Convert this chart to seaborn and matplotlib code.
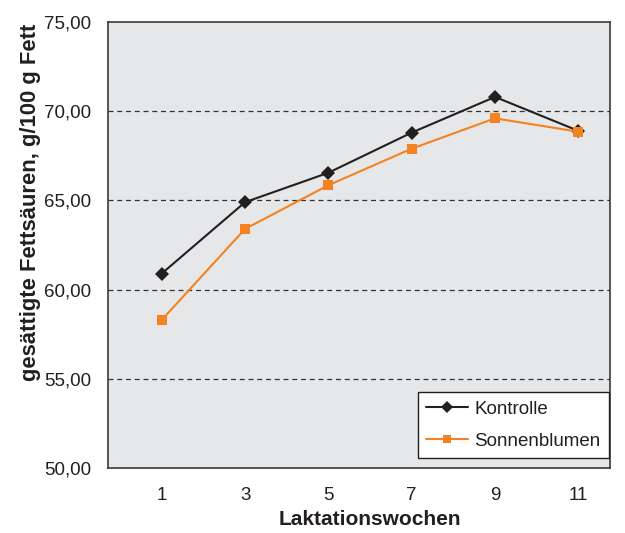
import numpy as np
import pandas as pd
import matplotlib
matplotlib.use("Agg")
import matplotlib.pyplot as plt
import seaborn as sns

# data
wochen = ["1", "3", "5", "7", "9", "11"]
kontrolle = [60.9, 64.9, 66.55, 68.8, 70.8, 68.9]
sonnenblumen = [58.3, 63.4, 65.85, 67.9, 69.6, 68.85]
y_ticks = [50, 55, 60, 65, 70, 75]

sns.set_style("white")
plt.rcParams["font.family"] = ["Liberation Sans", "DejaVu Sans"]

df = pd.DataFrame({
    "pos": list(range(len(wochen))) * 2,
    "wert": kontrolle + sonnenblumen,
    "gruppe": ["Kontrolle"] * len(wochen) + ["Sonnenblumen"] * len(wochen),
})

fig = plt.figure(figsize=(6.25, 5.33), dpi=100)
ax = fig.add_axes([0.1728, 0.122, 0.8032, 0.8367])
ax.set_facecolor("#e6e7e8")

for v in y_ticks[1:-1]:
    ax.axhline(v, color="#333333", lw=0.9, ls=(0, (4, 3)), zorder=1)

sns.lineplot(data=df, x="pos", y="wert", hue="gruppe", style="gruppe",
             palette={"Kontrolle": "#231f20", "Sonnenblumen": "#f58220"},
             markers={"Kontrolle": "D", "Sonnenblumen": "s"},
             dashes=False, markersize=7.5, markeredgewidth=0, linewidth=1.5,
             ax=ax, zorder=3)

ax.set_ylim(50, 75)
ax.set_yticks(y_ticks)
ax.set_yticklabels([f"{v:.2f}".replace(".", ",") for v in y_ticks])
ax.set_xlim(-0.645, 5.38)
ax.set_xticks(range(len(wochen)))
ax.set_xticklabels(wochen)
ax.set_xticks(np.arange(-0.645, 5.4, 1.0), minor=True)
ax.tick_params(axis="x", which="major", length=0, pad=14, labelsize=13.5, colors="#231f20")
ax.tick_params(axis="x", which="minor", length=6, width=1, color="#333333", direction="out")
ax.tick_params(axis="y", length=5, width=1, color="#333333", direction="out",
               labelsize=13.5, labelcolor="#231f20", pad=7)

for s in ax.spines.values():
    s.set_color("#3a3a3a")
    s.set_linewidth(1.2)

ax.set_xlabel("Laktationswochen", fontsize=15, fontweight="bold", color="#231f20")
ax.xaxis.set_label_coords(0.522, -0.095)
ax.set_ylabel("gesättigte Fettsäuren, g/100 g Fett", fontsize=15.8, fontweight="bold",
              color="#231f20")
ax.yaxis.set_label_coords(-0.133, 0.596)

leg = ax.legend(loc="lower right", bbox_to_anchor=(0.998, 0.022), borderaxespad=0,
                fontsize=13.5, frameon=True, fancybox=False, edgecolor="#231f20",
                framealpha=1, handlelength=2.2, borderpad=0.45, labelspacing=0.8,
                handletextpad=0.35, markerscale=0.8)
leg.get_frame().set_linewidth(1)
for t in leg.get_texts():
    t.set_color("#231f20")

plt.savefig("out.png", dpi=100)
